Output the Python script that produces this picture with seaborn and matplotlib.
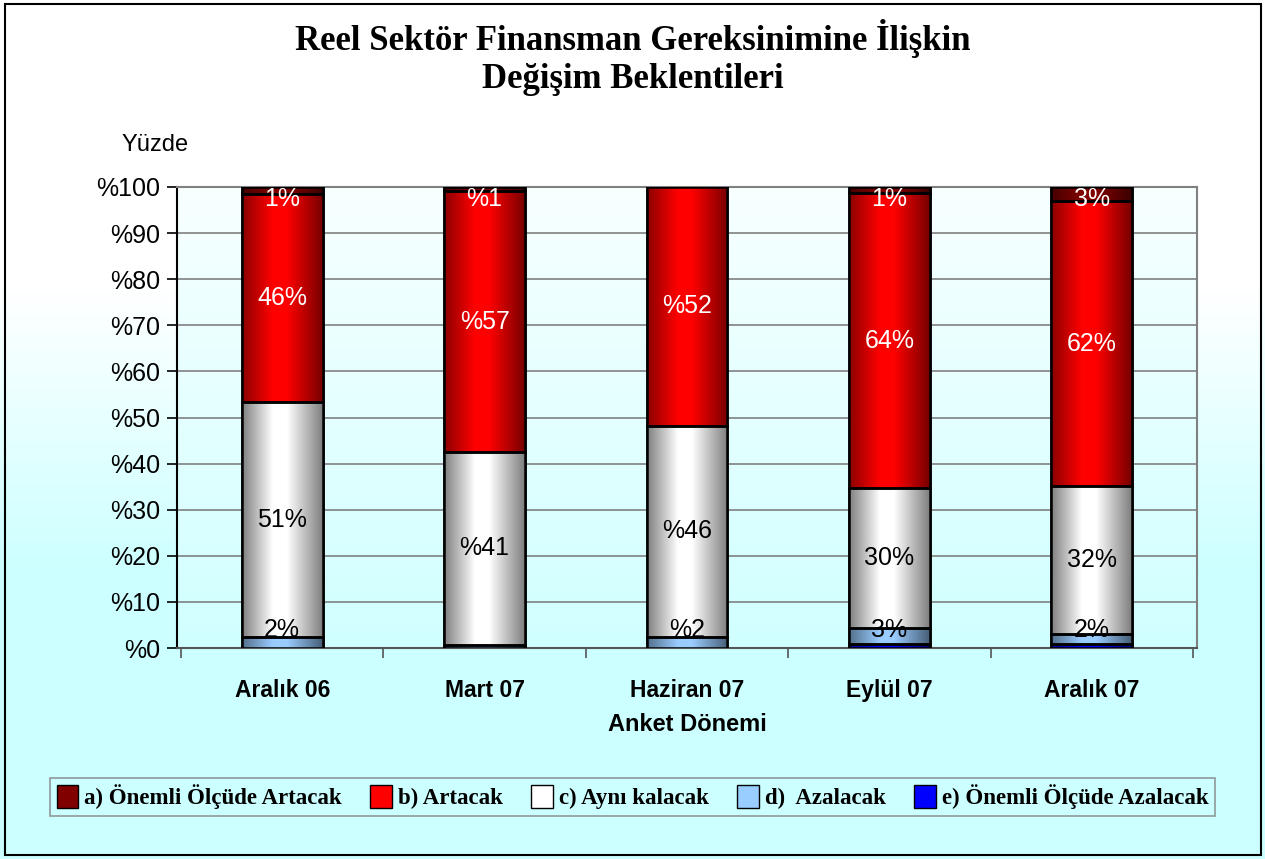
import matplotlib
matplotlib.use('Agg')
import matplotlib.pyplot as plt
import matplotlib.patches as mpatches
import matplotlib.colors as mcolors
import seaborn as sns
import numpy as np
import pandas as pd

# Dönemler ve seri değerleri (yüzde)
donemler = ["Aralık 06", "Mart 07", "Haziran 07", "Eylül 07", "Aralık 07"]
seri_adlari = ["a) Önemli Ölçüde Artacak", "b) Artacak", "c) Aynı kalacak",
               "d)  Azalacak", "e) Önemli Ölçüde Azalacak"]
e_onemli_azalacak = [0.0, 0.0, 0.0, 0.9, 0.8]
d_azalacak = [2.3, 0.7, 2.4, 3.4, 2.2]
c_ayni = [51.1, 41.8, 45.8, 30.4, 32.1]
b_artacak = [45.1, 56.6, 51.8, 64.0, 61.9]
a_onemli_artacak = [1.5, 0.9, 0.0, 1.3, 3.0]

# Segment etiketleri (grafikte yazıldığı gibi)
etiket_a = ["1%", "%1", "", "1%", "3%"]
etiket_b = ["46%", "%57", "%52", "64%", "62%"]
etiket_c = ["51%", "%41", "%46", "30%", "32%"]
etiket_d = ["2%", "", "%2", "3%", "2%"]
etiket_e = ["", "", "", "", ""]

renkler = ["#800000", "#ff0000", "#ffffff", "#99ccff", "#0000ff"]

# alttan üste çizim sırası
seriler = [
    (e_onemli_azalacak, etiket_e, renkler[4], "black"),
    (d_azalacak, etiket_d, renkler[3], "black"),
    (c_ayni, etiket_c, renkler[2], "black"),
    (b_artacak, etiket_b, renkler[1], "white"),
    (a_onemli_artacak, etiket_a, renkler[0], "white"),
]

fig = plt.figure(figsize=(12.65, 8.59), dpi=100)

# figür arka planı: üstte beyaz, altta açık camgöbeği
bg = fig.add_axes([0, 0, 1, 1], zorder=-10)
grad = np.linspace(0, 1, 256).reshape(-1, 1)
bg_cmap = mcolors.LinearSegmentedColormap.from_list("bg", ["#ffffff", "#ffffff", "#ccffff", "#ccffff"])
bg.imshow(grad, aspect="auto", cmap=bg_cmap, extent=[0, 1, 0, 1], origin="upper")
bg.set_axis_off()
bg.add_patch(mpatches.Rectangle((0.004, 0.005), 0.993, 0.99, transform=bg.transAxes,
                                fill=False, edgecolor="black", linewidth=1.5))

ax = fig.add_axes([177 / 1265, (859 - 648) / 859, 1020 / 1265, 461 / 859])
ax.set_facecolor("none")
plot_cmap = mcolors.LinearSegmentedColormap.from_list("pl", ["#f8ffff", "#d0ffff"])
ax.imshow(grad, aspect="auto", cmap=plot_cmap, extent=[-0.52, 4.52, 0, 100],
          origin="upper", zorder=-5)


def golge(renk):
    # silindir benzeri yatay gradyan
    r = np.array(mcolors.to_rgb(renk))
    if renk == "#ffffff":
        koyu = np.array([0.5, 0.5, 0.5])
        return mcolors.LinearSegmentedColormap.from_list("g", [koyu, r, r, koyu])
    koyu = r * 0.55
    return mcolors.LinearSegmentedColormap.from_list("g", [koyu, r, r, koyu * 0.85])


yatay = np.interp(np.linspace(0, 1, 200), [0, 0.4, 0.55, 1], [0, 0.35, 0.66, 1]).reshape(1, -1)

alt = np.zeros(len(donemler))
for degerler, etiketler, renk, yazi_rengi in seriler:
    df = pd.DataFrame({"donem": donemler, "deger": degerler})
    n_once = len(ax.patches)
    sns.barplot(data=df, x="donem", y="deger", color=renk, width=0.4, bottom=alt,
                edgecolor="black", linewidth=1.8, saturation=1, ax=ax, zorder=3)
    yeni = ax.patches[n_once:]
    cmap = golge(renk)
    for p, deger in zip(yeni, degerler):
        if deger <= 0:
            p.set_visible(False)
            continue
        x0, y0 = p.get_x(), p.get_y()
        w, h = p.get_width(), p.get_height()
        im = ax.imshow(yatay, aspect="auto", cmap=cmap, extent=[x0, x0 + w, y0, y0 + h],
                       zorder=3.5, interpolation="bilinear")
        im.set_clip_path(p)
        ax.add_patch(mpatches.Rectangle((x0, y0), w, h, fill=False, edgecolor="black",
                                        linewidth=1.8, zorder=4))
    for i, (deger, et) in enumerate(zip(degerler, etiketler)):
        if et:
            yy = min(max(alt[i] + deger / 2, 3.8), 97.4)
            ax.text(i, yy, et, ha="center", va="center", color=yazi_rengi,
                    fontsize=18, family="Liberation Sans", zorder=6)
    alt = alt + np.array(degerler)

ax.set_xlim(-0.52, 4.52)
ax.set_ylim(0, 100)
ax.set_yticks(range(0, 101, 10))
ax.set_yticklabels([f"%{v}" for v in range(0, 101, 10)], fontsize=18, family="Liberation Sans")
ax.yaxis.grid(True, color="#808080", linewidth=1.2, zorder=1)
ax.set_axisbelow(True)
ax.tick_params(axis="y", length=7, width=1.2, color="black", pad=5)
ax.set_xticks(range(len(donemler)))
ax.set_xticklabels(donemler, fontsize=16.5, fontweight="bold", family="Liberation Sans")
ax.set_xticks(np.arange(-0.5, 5, 1), minor=True)
ax.tick_params(axis="x", which="major", length=0, pad=22)
ax.tick_params(axis="x", which="minor", length=7, width=1.2, color="#555555")
ax.set_xlabel("Anket Dönemi", fontsize=17, fontweight="bold", family="Liberation Sans", labelpad=8)
ax.set_ylabel("")
for s in ["top", "right"]:
    ax.spines[s].set_color("#808080")
    ax.spines[s].set_linewidth(1.5)
ax.spines["left"].set_color("black")
ax.spines["left"].set_linewidth(1.5)
ax.spines["bottom"].set_color("#555555")
ax.spines["bottom"].set_linewidth(1.5)

fig.text(155 / 1265, 1 - 145 / 859, "Yüzde", ha="center", va="center", fontsize=17,
         family="Liberation Sans")

fig.text(0.5, 1 - 38 / 859, "Reel Sektör Finansman Gereksinimine İlişkin", ha="center", va="center",
         fontsize=25, fontweight="bold", family="Liberation Serif")
fig.text(0.5, 1 - 80 / 859, "Değişim Beklentileri", ha="center", va="center",
         fontsize=25, fontweight="bold", family="Liberation Serif")

# lejant
tutamaclar = [mpatches.Patch(facecolor=renk, edgecolor="black", label=ad)
              for ad, renk in zip(seri_adlari, renkler)]
leg = fig.legend(handles=tutamaclar, loc="center", bbox_to_anchor=(0.5, 1 - 797 / 859), ncol=5,
                 frameon=True, fancybox=False, edgecolor="#808080", facecolor="none",
                 prop={"family": "Liberation Serif", "weight": "bold", "size": 16.5},
                 handlelength=0.95, handleheight=1.2, handletextpad=0.25, columnspacing=1.25,
                 borderpad=0.3)
leg.get_frame().set_linewidth(1.2)

fig.savefig("out.png", dpi=100)
